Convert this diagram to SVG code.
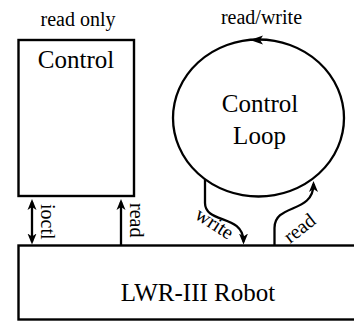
<svg xmlns="http://www.w3.org/2000/svg" width="354" height="321" viewBox="0 0 354 321" font-family="'Liberation Serif', 'DejaVu Serif', serif">
<style>
.box{fill:#fff;stroke:#000;stroke-width:2.4}
.ln{fill:none;stroke:#000;stroke-width:2.3}
text{font-family:'Liberation Serif','DejaVu Serif',serif;fill:#000}
.big{font-size:25px;text-anchor:middle}
.sm{font-size:20px}
.mid{text-anchor:middle}
</style>
<defs>
<marker id="ah" markerUnits="userSpaceOnUse" markerWidth="12" markerHeight="10" viewBox="0 0 12 10" refX="8" refY="5" orient="auto-start-reverse">
<path d="M0,0.5 L11,5 L0,9.5 L3,5 Z" fill="#000"/>
</marker>
</defs>
<rect width="354" height="321" fill="#fff"/>
<g id="control">
<rect class="box" x="18.5" y="40" width="115.5" height="156"/>
<text class="big" x="76" y="68">Control</text>
<text class="sm mid" x="78" y="26">read only</text>
</g>
<g id="control-loop">
<ellipse class="ln" cx="258.5" cy="118" rx="85.5" ry="78.5"/>
<path d="M250,40 L263,35.5 L260,40 L263,44.5 Z" fill="#000"/>
<text class="big" x="260" y="112">Control</text>
<text class="big" x="259.5" y="144">Loop</text>
<text class="sm mid" x="261.5" y="24">read/write</text>
</g>
<g id="robot">
<rect class="box" x="18.5" y="245.5" width="360" height="74"/>
<text class="big" x="198" y="301">LWR-III Robot</text>
</g>
<g id="connectors">
<path class="ln" d="M32,202 V241.5" marker-start="url(#ah)" marker-end="url(#ah)"/>
<path class="ln" d="M121,245 V202" marker-end="url(#ah)"/>
<path class="ln" d="M205,179.5 V203 C205,224 243.5,214 243.5,241.5" marker-end="url(#ah)"/>
<path class="ln" d="M274.5,245 V228 C274.5,203 313.5,214 313.5,184" marker-end="url(#ah)"/>
<text class="sm" transform="translate(40.5,204) rotate(90)">ioctl</text>
<text class="sm" transform="translate(130,203) rotate(90)">read</text>
<text class="sm mid" transform="translate(211,229) rotate(33)">write</text>
<text class="sm mid" transform="translate(303.5,233.5) rotate(-38)">read</text>
</g>
</svg>
